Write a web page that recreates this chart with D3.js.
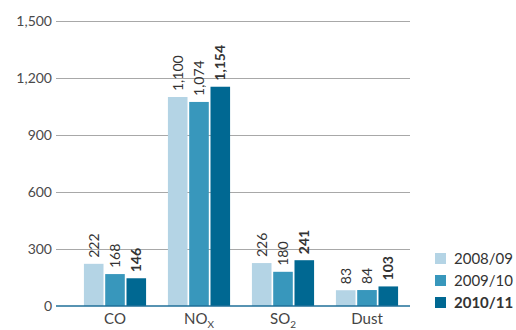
<!DOCTYPE html>
<html>
<head>
<meta charset="utf-8">
<script src="https://cdn.jsdelivr.net/npm/d3@7"></script>
<style>
  body { margin: 0; background: #fff; }
  text { font-family: Lato, "Open Sans", sans-serif; }
</style>
</head>
<body>
<div id="chart"></div>
<script>
// Emissions by category and year
var categories = ['CO', 'NOx', 'SO2', 'Dust'];
var seriesNames = ['2008/09', '2009/10', '2010/11'];
var values2008 = [222, 1100, 226, 83];
var values2009 = [168, 1074, 180, 84];
var values2010 = [146, 1154, 241, 103];
var yTicks = [0, 300, 600, 900, 1200, 1500];
var colors = ['#b4d4e5', '#3897bc', '#006892'];

var seriesValues = [values2008, values2009, values2010];

var width = 516, height = 330;
var svg = d3.select('#chart').append('svg')
    .attr('width', width)
    .attr('height', height);

var y = d3.scaleLinear().domain([0, 1500]).range([306, 21]);
var x0 = d3.scaleBand().domain(categories).range([73, 409])
    .paddingInner(0.26).paddingOuter(0.13);
var x1 = d3.scaleBand().domain(seriesNames).range([0, x0.bandwidth()])
    .paddingInner(0.08);

// Gridlines and tick labels
var yAxis = svg.append('g')
    .attr('transform', 'translate(56,0)')
    .call(d3.axisLeft(y).tickValues(yTicks).tickSize(-354).tickFormat(d3.format(',')));
yAxis.select('.domain').remove();
yAxis.selectAll('.tick line').attr('stroke', '#a8a8a8').attr('stroke-width', 1);
yAxis.selectAll('.tick text')
    .attr('x', -4)
    .attr('fill', '#4a4a4a')
    .style('font-size', '14px');
yAxis.selectAll('.tick').filter(function(d) { return d === 0; }).select('line').remove();

// Bars
var groups = svg.selectAll('.group')
    .data(categories)
    .enter().append('g')
    .attr('class', 'group')
    .attr('transform', function(d) { return 'translate(' + x0(d) + ',0)'; });

groups.each(function(cat, ci) {
    var g = d3.select(this);
    seriesNames.forEach(function(s, si) {
        var v = seriesValues[si][ci];
        g.append('rect')
            .attr('x', x1(s))
            .attr('y', y(v))
            .attr('width', x1.bandwidth())
            .attr('height', y(0) - y(v))
            .attr('fill', colors[si]);
        var tx = x1(s) + x1.bandwidth() / 2 + 5;
        var ty = y(v) - 6;
        g.append('text')
            .attr('transform', 'translate(' + tx + ',' + ty + ') rotate(-90)')
            .attr('fill', '#333')
            .style('font-size', '14px')
            .style('font-weight', si === 2 ? 'bold' : 'normal')
            .text(d3.format(',')(v));
    });
});

// Baseline
svg.append('line')
    .attr('x1', 56).attr('x2', 410)
    .attr('y1', y(0)).attr('y2', y(0))
    .attr('stroke', '#1f6f98').attr('stroke-width', 1.5);

// Category labels with subscripts
var catLabels = svg.selectAll('.cat')
    .data(categories)
    .enter().append('text')
    .attr('class', 'cat')
    .attr('x', function(d) { return x0(d) + x0.bandwidth() / 2; })
    .attr('y', 324)
    .attr('text-anchor', 'middle')
    .attr('fill', '#444')
    .style('font-size', '15px');
catLabels.each(function(d) {
    var t = d3.select(this);
    if (d === 'NOx' || d === 'SO2') {
        t.append('tspan').text(d.slice(0, 2));
        t.append('tspan').attr('dy', 4).style('font-size', '10px')
            .text(d === 'NOx' ? 'X' : '2');
    } else {
        t.text(d);
    }
});

// Legend
var legend = svg.selectAll('.legend')
    .data(seriesNames)
    .enter().append('g')
    .attr('class', 'legend')
    .attr('transform', function(d, i) { return 'translate(435,' + (253 + i * 22) + ')'; });
legend.append('rect')
    .attr('width', 11).attr('height', 11)
    .attr('fill', function(d, i) { return colors[i]; });
legend.append('text')
    .attr('x', 19).attr('y', 11)
    .attr('fill', '#333')
    .style('font-size', '15px')
    .style('font-weight', function(d, i) { return i === 2 ? 'bold' : 'normal'; })
    .text(function(d) { return d; });
</script>
</body>
</html>
